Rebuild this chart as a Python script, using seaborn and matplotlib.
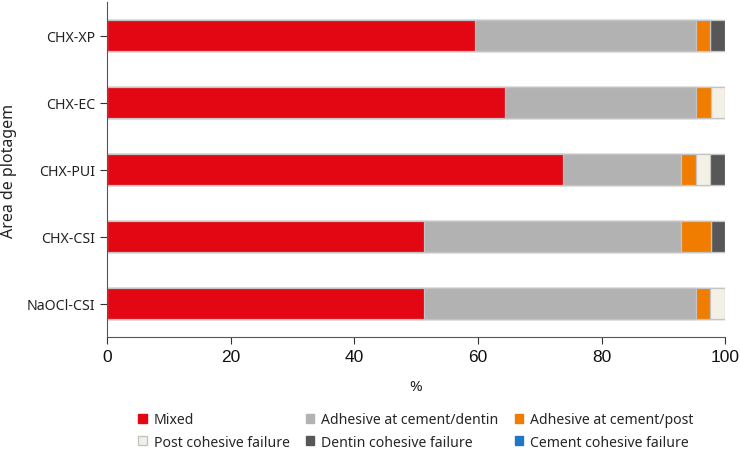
import pandas as pd
import matplotlib.pyplot as plt
import seaborn as sns
from matplotlib.patches import Patch

# data (percent of specimens per failure mode)
groups = ['CHX-XP', 'CHX-EC', 'CHX-PUI', 'CHX-CSI', 'NaOCl-CSI']
modes = ['Mixed', 'Adhesive at cement/dentin', 'Adhesive at cement/post',
         'Post cohesive failure', 'Dentin cohesive failure', 'Cement cohesive failure']
mixed = [59.5, 64.3, 73.8, 51.2, 51.2]
adh_dentin = [35.7, 31.0, 19.0, 41.7, 44.0]
adh_post = [2.4, 2.4, 2.4, 4.8, 2.4]
post_coh = [0.0, 2.3, 2.4, 0.0, 2.4]
dentin_coh = [2.4, 0.0, 2.4, 2.3, 0.0]
cement_coh = [0.0, 0.0, 0.0, 0.0, 0.0]
mode_colors = ['#e30613', '#b2b2b2', '#f07d00', '#f5f0e6', '#575757', '#1f78c1']

df = pd.DataFrame({'group': groups})
for m, v in zip(modes, [mixed, adh_dentin, adh_post, post_coh, dentin_coh, cement_coh]):
    df[m] = v
cum = df[modes].cumsum(axis=1)
cum['group'] = groups

sns.set_style('ticks')
plt.rcParams['font.family'] = ['Noto Sans', 'DejaVu Sans']

fig = plt.figure(figsize=(7.4, 4.52), dpi=100)
ax = fig.add_axes([0.1446, 1 - 338 / 452, 0.8354, 335 / 452])

# stacked bars: draw cumulative totals from the outermost layer inwards
for m, c in reversed(list(zip(modes, mode_colors))):
    sns.barplot(data=cum, x=m, y='group', orient='h', color=c, saturation=1,
                width=0.45, edgecolor='#c4c4c4', linewidth=0.9, ax=ax)

ax.set_xlim(0, 100)
ax.set_xticks([0, 20, 40, 60, 80, 100])
for lab in ax.get_xticklabels():
    lab.set_fontfamily('Liberation Sans')
ax.tick_params(axis='x', labelsize=12.5, colors='#333333', labelcolor='#111111', length=5)
ax.tick_params(axis='y', labelsize=10.2, colors='#333333', labelcolor='#222222', length=5)
ax.set_xlabel('%', fontsize=11, color='#222222', labelpad=11)
ax.set_ylabel('Area de plotagem', fontsize=11.5, color='#222222', labelpad=7)
sns.despine(ax=ax)
for s in ['left', 'bottom']:
    ax.spines[s].set_color('#555555')

handles = [Patch(facecolor=c, edgecolor='#c4c4c4' if m == 'Post cohesive failure' else c, label=m)
           for m, c in zip(modes, mode_colors)]
order = [0, 3, 1, 4, 2, 5]
fig.legend([handles[i] for i in order], [modes[i] for i in order], ncol=3,
           loc='upper center', bbox_to_anchor=(0.562, 0.114), frameon=False,
           fontsize=10.1, handlelength=0.6, handleheight=0.6, handletextpad=0.5,
           columnspacing=1.15, labelspacing=0.55)

fig.savefig('out.png', dpi=100)
